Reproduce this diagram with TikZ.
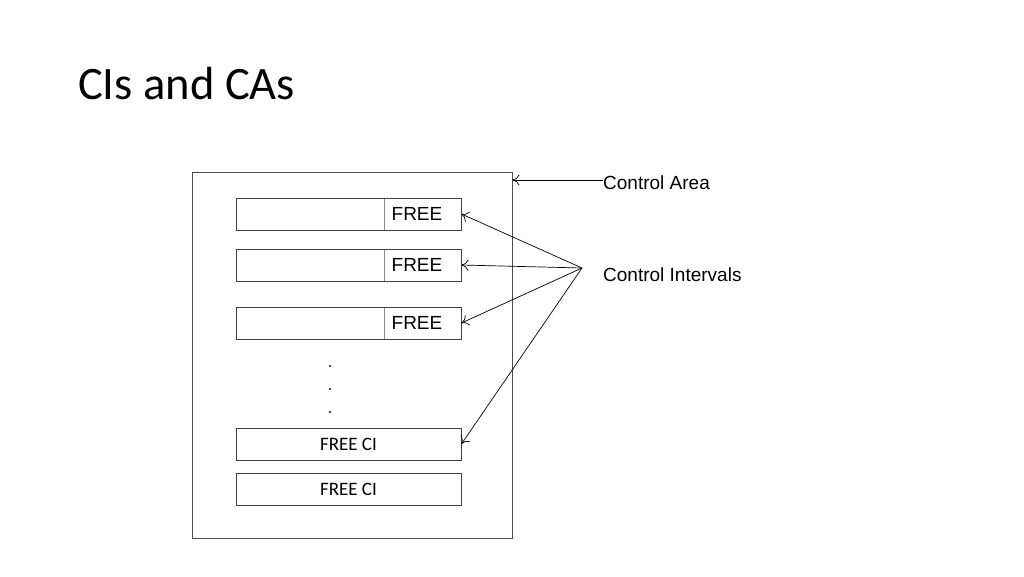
\documentclass[tikz,border=0pt]{standalone}
\usepackage{fontspec}
\setmainfont{Liberation Sans}
\newfontfamily\calib{Carlito}
\usetikzlibrary{arrows.meta}
\begin{document}
\begin{tikzpicture}[x=1pt,y=-1pt,
  cibox/.style={draw=black!75,line width=0.9pt,minimum width=225pt,minimum height=32pt,inner sep=0pt,fill=white},
  arrowline/.style={line width=0.7pt,-{To[length=7pt,width=11pt]}},
  freetxt/.style={font=\fontsize{19}{20}\selectfont,inner sep=0pt},
  lbl/.style={inner sep=0pt,anchor=base west,font=\fontsize{19}{20}\selectfont}
]
\useasboundingbox (0,0) rectangle (1024,576);
\node[inner sep=0pt,anchor=base west,font=\calib\fontsize{46.5}{50}\selectfont] (title) at (78,99) {CIs and CAs};
\node[draw=black!70,line width=1pt,minimum width=320pt,minimum height=366pt,inner sep=0pt] (ca) at (352,355) {};
% CI boxes
\node[cibox] (b1) at (348.5,214) {};
\node[cibox] (b2) at (348.5,265) {};
\node[cibox] (b3) at (348.5,323) {};
\draw[black!45,line width=0.9pt] (384,198.5) -- (384,229.5) (384,249.5) -- (384,280.5) (384,307.5) -- (384,338.5);
\node[freetxt] (f1) at (417,214) {FREE};
\node[freetxt] (f2) at (417,265) {FREE};
\node[freetxt] (f3) at (417,323) {FREE};
\node[cibox,font=\calib\fontsize{19}{20}\selectfont] (b4) at (348.5,444) {FREE CI};
\node[cibox,font=\calib\fontsize{19}{20}\selectfont] (b5) at (348.5,489) {FREE CI};
% dots
\fill (330,366) circle (1.2pt);
\fill (330,389) circle (1.2pt);
\fill (330,412) circle (1.2pt);
% labels
\node[lbl] (carea) at (603,189) {Control Area};
\node[lbl] (cint) at (603,281) {Control Intervals};
\coordinate (apex) at (582,268);
\draw[arrowline] (carea.west |- 0,180) -- (ca.east |- 0,180);
\draw[arrowline] (apex) -- (b1.east);
\draw[arrowline] (apex) -- (b2.east);
\draw[arrowline] (apex) -- (b3.east);
\draw[arrowline] (apex) -- (b4.east);
\end{tikzpicture}
\end{document}
